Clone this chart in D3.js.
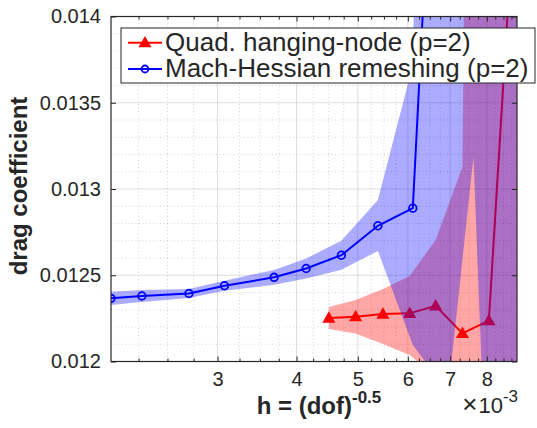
<!DOCTYPE html>
<html>
<head>
<meta charset="utf-8">
<script src="https://cdn.jsdelivr.net/npm/d3@7"></script>
<style>
  html, body { margin: 0; padding: 0; background: #fff; }
  svg { display: block; }
  text { font-family: "Liberation Sans", Arial, Helvetica, sans-serif; fill: #262626; }
</style>
</head>
<body>
<script>
// Mesh size h = (dof)^-0.5, in units of 1e-3
const hBlue = [2.035, 2.277, 2.703, 3.077, 3.686, 4.143, 4.71, 5.38, 6.11, 6.95, 7.62, 8.40, 9.30];
// Mach-Hessian remeshing: mean drag coefficient and band limits
const cdBlue = [0.012366, 0.01238, 0.012394, 0.012439, 0.012488, 0.012539, 0.012616, 0.012787, 0.012889, 0.0169, 0.0205, 0.0210, 0.0215];
const upBlue = [0.012404, 0.012415, 0.01242, 0.012468, 0.012531, 0.012597, 0.0127, 0.012936, 0.013719, 0.026, 0.030, 0.032, 0.034];
const loBlue = [0.012328, 0.012345, 0.012368, 0.01241, 0.012445, 0.012481, 0.012532, 0.012641, 0.012096, 0.01182, 0.013186, 0.0092, 0.009];

const hRed = [4.50, 4.96, 5.48, 6.04, 6.64, 7.32, 8.06, 8.93];
// Quad. hanging-node: mean drag coefficient and band limits
const cdRed = [0.012252, 0.01226, 0.012275, 0.012279, 0.012323, 0.012163, 0.012237, 0.014913];
const upRed = [0.012316, 0.012357, 0.01242, 0.012496, 0.012704, 0.013128, 0.030, 0.032];
const loRed = [0.012188, 0.012163, 0.012102, 0.012038, 0.011916, 0.0115, 0.0108, 0.0105];

const seriesNames = ["Quad. hanging-node (p=2)", "Mach-Hessian remeshing (p=2)"];

const xMajorTicks = [3, 4, 5, 6, 7, 8];
const xTickLabels = ["3", "4", "5", "6", "7", "8"];
const yMajorTicks = [0.012, 0.0125, 0.013, 0.0135, 0.014];
const yTickLabels = ["0.012", "0.0125", "0.013", "0.0135", "0.014"];

const W = 537, H = 428;
const L = 111, R = 517, T = 16.5, B = 361.5;

const svg = d3.select("body").append("svg").attr("width", W).attr("height", H);
svg.append("rect").attr("width", W).attr("height", H).attr("fill", "#fff");

const x = d3.scaleLog().domain([hBlue[0], hRed[hRed.length - 1]]).range([L, R]);
const y = d3.scaleLinear().domain([0.012, 0.014]).range([B, T]);

// minor positions: every 0.25 on x, every 0.0001 on y
const xMinor = d3.range(2.25, 8.93, 0.25).filter(v => Math.abs(v - Math.round(v)) > 1e-9 && v >= x.domain()[0]);
const yMinor = d3.range(0.0121, 0.01400001, 0.0001).filter(v => Math.abs(v / 0.0005 - Math.round(v / 0.0005)) > 1e-6);

svg.append("defs").append("clipPath").attr("id", "plotClip")
  .append("rect").attr("x", L).attr("y", T).attr("width", R - L).attr("height", B - T);

// grid
const grid = svg.append("g");
grid.selectAll(".gxm").data(xMinor).join("line")
  .attr("x1", d => x(d)).attr("x2", d => x(d)).attr("y1", T).attr("y2", B)
  .attr("stroke", "#262626").attr("stroke-opacity", 0.25).attr("stroke-width", 0.8).attr("stroke-dasharray", "1,2.5");
grid.selectAll(".gym").data(yMinor).join("line")
  .attr("y1", d => y(d)).attr("y2", d => y(d)).attr("x1", L).attr("x2", R)
  .attr("stroke", "#262626").attr("stroke-opacity", 0.25).attr("stroke-width", 0.8).attr("stroke-dasharray", "1,2.5");
grid.selectAll(".gx").data(xMajorTicks).join("line")
  .attr("x1", d => x(d)).attr("x2", d => x(d)).attr("y1", T).attr("y2", B)
  .attr("stroke", "#262626").attr("stroke-opacity", 0.15).attr("stroke-width", 1);
grid.selectAll(".gy").data(yMajorTicks).join("line")
  .attr("y1", d => y(d)).attr("y2", d => y(d)).attr("x1", L).attr("x2", R)
  .attr("stroke", "#262626").attr("stroke-opacity", 0.15).attr("stroke-width", 1);

const red = hRed.map((h, i) => ({ h, c: cdRed[i], lo: loRed[i], hi: upRed[i] }));
const blue = hBlue.map((h, i) => ({ h, c: cdBlue[i], lo: loBlue[i], hi: upBlue[i] }));

const area = d3.area().x(d => x(d.h)).y0(d => y(d.lo)).y1(d => y(d.hi));
const line = d3.line().x(d => x(d.h)).y(d => y(d.c));
const inside = d => d.h >= x.domain()[0] - 1e-9 && d.h <= x.domain()[1] + 1e-9 && d.c >= 0.012 && d.c <= 0.014;

const plot = svg.append("g").attr("clip-path", "url(#plotClip)");
const tri = "M0,-5.5L5.5,4L-5.5,4Z";

// red series
plot.append("path").datum(red).attr("d", area).attr("fill", "#ff0000").attr("fill-opacity", 0.35);
plot.append("path").datum(red).attr("d", line).attr("fill", "none").attr("stroke", "#ff0000").attr("stroke-width", 2);
plot.selectAll(".rm").data(red.filter(inside)).join("path")
  .attr("d", tri).attr("transform", d => `translate(${x(d.h)},${y(d.c)})`)
  .attr("fill", "#ff0000").attr("stroke", "#ff0000").attr("stroke-width", 1.2);

// blue series
plot.append("path").datum(blue).attr("d", area).attr("fill", "#0000ff").attr("fill-opacity", 0.33);
plot.append("path").datum(blue).attr("d", line).attr("fill", "none").attr("stroke", "#0000ff").attr("stroke-width", 2);
plot.selectAll(".bm").data(blue.filter(inside)).join("circle")
  .attr("cx", d => x(d.h)).attr("cy", d => y(d.c)).attr("r", 3.8)
  .attr("fill", "none").attr("stroke", "#0000ff").attr("stroke-width", 1.8);

// axes
const axCol = "#262626";
function styleAxis(g) {
  g.select(".domain").remove();
  g.selectAll(".tick line").attr("stroke", axCol).attr("stroke-width", 1);
  g.selectAll(".tick text").attr("fill", axCol).style("font-size", "20px");
}
svg.append("g").attr("transform", `translate(0,${B})`)
  .call(d3.axisBottom(x).tickValues(xMajorTicks).tickFormat((d, i) => xTickLabels[i]).tickSizeInner(-5).tickSizeOuter(0).tickPadding(10))
  .call(styleAxis);
svg.append("g").attr("transform", `translate(0,${B})`)
  .call(d3.axisBottom(x).tickValues(xMinor).tickFormat("").tickSizeInner(-3).tickSizeOuter(0))
  .call(styleAxis);
svg.append("g").attr("transform", `translate(0,${T})`)
  .call(d3.axisTop(x).tickValues(xMajorTicks).tickFormat("").tickSizeInner(-5).tickSizeOuter(0))
  .call(styleAxis);
svg.append("g").attr("transform", `translate(0,${T})`)
  .call(d3.axisTop(x).tickValues(xMinor).tickFormat("").tickSizeInner(-3).tickSizeOuter(0))
  .call(styleAxis);
svg.append("g").attr("transform", `translate(${L},0)`)
  .call(d3.axisLeft(y).tickValues(yMajorTicks).tickFormat((d, i) => yTickLabels[i]).tickSizeInner(-5).tickSizeOuter(0).tickPadding(10))
  .call(styleAxis);
svg.append("g").attr("transform", `translate(${R},0)`)
  .call(d3.axisRight(y).tickValues(yMajorTicks).tickFormat("").tickSizeInner(-5).tickSizeOuter(0))
  .call(styleAxis);

svg.append("rect").attr("x", L).attr("y", T).attr("width", R - L).attr("height", B - T)
  .attr("fill", "none").attr("stroke", axCol).attr("stroke-width", 1.2);

// exponent label
const ex = svg.append("text").attr("x", 518).attr("y", 413).attr("text-anchor", "end").style("font-size", "22px");
ex.append("tspan").style("font-size", "26px").text("\u00d7");
ex.append("tspan").attr("dx", 1).text("10");
ex.append("tspan").attr("dy", -11).style("font-size", "17px").text("-3");

// axis labels
const xl = svg.append("text").attr("x", 319).attr("y", 414).attr("text-anchor", "middle")
  .style("font-size", "24px").style("font-weight", "bold");
xl.append("tspan").text("h = (dof)");
xl.append("tspan").attr("dy", -11).style("font-size", "17px").text("-0.5");

svg.append("text").attr("transform", `translate(27,${(T + B) / 2 - 3}) rotate(-90)`)
  .attr("text-anchor", "middle").style("font-size", "24px").style("font-weight", "bold")
  .text("drag coefficient");

// legend
const lg = svg.append("g");
lg.append("rect").attr("x", 121).attr("y", 28).attr("width", 414).attr("height", 55)
  .attr("fill", "#fff").attr("stroke", axCol).attr("stroke-width", 1);
const legendRows = [
  { name: seriesNames[0], color: "#ff0000", yy: 42.7, marker: "tri" },
  { name: seriesNames[1], color: "#0000ff", yy: 69, marker: "circ" }
];
legendRows.forEach(r => {
  lg.append("line").attr("x1", 128).attr("x2", 162).attr("y1", r.yy).attr("y2", r.yy)
    .attr("stroke", r.color).attr("stroke-width", 2);
  if (r.marker === "tri") {
    lg.append("path").attr("d", tri).attr("transform", `translate(145,${r.yy})`)
      .attr("fill", r.color).attr("stroke", r.color).attr("stroke-width", 1.2);
  } else {
    lg.append("circle").attr("cx", 145).attr("cy", r.yy).attr("r", 3.5)
      .attr("fill", "none").attr("stroke", r.color).attr("stroke-width", 1.8);
  }
  lg.append("text").attr("x", 165).attr("y", r.yy + 8.3).style("font-size", "26px").attr("fill", "#000").text(r.name);
});
</script>
</body>
</html>
